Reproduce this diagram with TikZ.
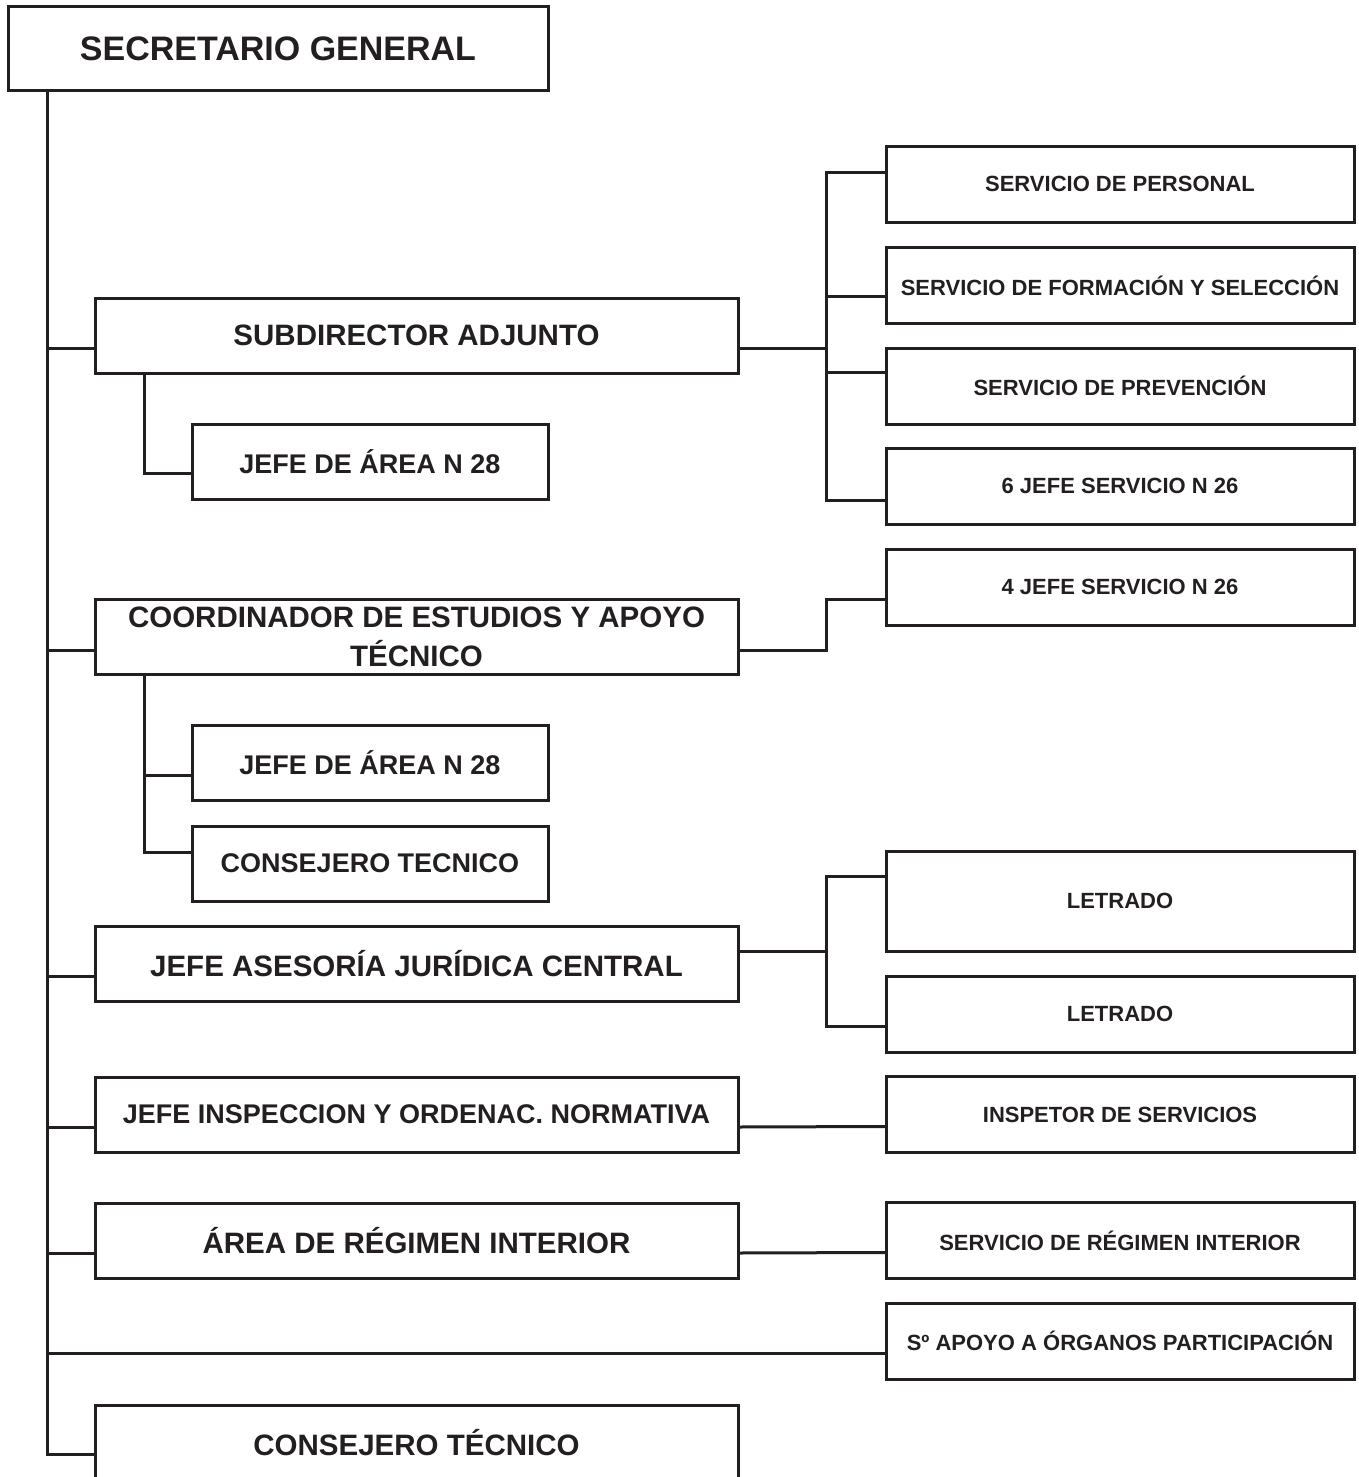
\documentclass[tikz,border=0pt]{standalone}
\usepackage{fontspec}
\setmainfont{Liberation Sans}
\usepackage{tikz}
\usetikzlibrary{calc}
\usetikzlibrary{positioning}
\definecolor{ink}{HTML}{231F20}
\tikzset{>=latex}
\tikzstyle{box} = [draw = ink, text = ink, line width = 3pt, inner sep = 0, outer sep = 0, align = center]
\tikzstyle{topbox} = [box, minimum width = 540pt, minimum height = 84pt, font = \bfseries\fontsize{34}{40}\selectfont]
\tikzstyle{mainbox} = [box, minimum width = 643pt, minimum height = 75pt, font = \bfseries\fontsize{29.5}{39}\selectfont]
\tikzstyle{subbox} = [box, minimum width = 356pt, minimum height = 75pt, font = \bfseries\fontsize{27}{32}\selectfont]
\tikzstyle{servbox} = [box, minimum width = 468pt, minimum height = 76pt, font = \bfseries\fontsize{22}{26}\selectfont]
\tikzstyle{link} = [-, draw = ink, line width = 3pt]

\begin{document}
\begin{tikzpicture}[x = 1pt, y = -1pt]
\useasboundingbox (0, 0) rectangle (1358, 1477);
\clip (0, 0) rectangle (1358, 1477);

\node [topbox]  (sg) at (278, 49) {SECRETARIO GENERAL};

\node [mainbox] (subd) at (416.5, 335.5) {SUBDIRECTOR ADJUNTO};
\node [subbox]  (ja1) at (370, 461.5) {JEFE DE ÁREA N 28};
\node [mainbox] (coord) at (416.5, 637) {COORDINADOR DE ESTUDIOS Y APOYO\\TÉCNICO};
\node [subbox]  (ja2) at (370, 762.5) {JEFE DE ÁREA N 28};
\node [subbox]  (ct1) at (370, 863.5) {CONSEJERO TECNICO};
\node [mainbox] (jaj) at (416.5, 964) {JEFE ASESORÍA JURÍDICA CENTRAL};
\node [mainbox, font = \bfseries\fontsize{27}{32}\selectfont] (jin) at (416.5, 1114.5) {JEFE INSPECCION Y ORDENAC. NORMATIVA};
\node [mainbox] (ari) at (416.5, 1240.5) {ÁREA DE RÉGIMEN INTERIOR};
\node [mainbox] (ct2) at (416.5, 1442.5) {CONSEJERO TÉCNICO};

\node [servbox] (sp1) at (1120, 184) {SERVICIO DE PERSONAL};
\node [servbox] (sp2) at (1120, 285.5) {SERVICIO DE FORMACIÓN Y SELECCIÓN};
\node [servbox] (sp3) at (1120, 386) {SERVICIO DE PREVENCIÓN};
\node [servbox] (sp4) at (1120, 486) {6 JEFE SERVICIO N 26};
\node [servbox] (js4) at (1120, 587) {4 JEFE SERVICIO N 26};
\node [servbox, minimum height = 100pt] (let1) at (1120, 901) {LETRADO};
\node [servbox] (let2) at (1120, 1014) {LETRADO};
\node [servbox] (insp) at (1120, 1114.5) {INSPETOR DE SERVICIOS};
\node [servbox] (sri) at (1120, 1240.5) {SERVICIO DE RÉGIMEN INTERIOR};
\node [servbox] (sap) at (1120, 1341) {Sº APOYO A ÓRGANOS PARTICIPACIÓN};

% main trunk
\coordinate (tk) at (47, 1454);
\draw [link] (sg.south -| tk) -- (tk) -- (ct2.west |- tk);
\draw [link] ($(subd.north west)+(0,50)$) -- +(-48,0);
\draw [link] ($(coord.north west)+(0,51)$) -- +(-48,0);
\draw [link] ($(jaj.north west)+(0,50)$) -- +(-48,0);
\draw [link] ($(jin.north west)+(0,50)$) -- +(-48,0);
\draw [link] ($(ari.north west)+(0,50)$) -- +(-48,0);
\coordinate (sapin) at ($(sap.west)+(0,12)$);
\draw [link] (sapin) -- (tk |- sapin);

% sub boxes on the left
\draw [link] ($(subd.south west)+(49,0)$) |- ($(ja1.west)+(0,11.5)$);
\draw [link] ($(coord.south west)+(49,0)$) |- ($(ct1.west)+(0,-11.5)$);
\draw [link] ($(ja2.west)+(0,12.5)$) -- +(-48,0);

% services on the right
\draw [link] ($(subd.north east)+(0,50)$) -- +(88,0);
\draw [link] ($(sp1.north west)+(0,26)$) -- +(-60,0) |- ($(sp4.north west)+(0,52)$);
\draw [link] ($(sp2.north west)+(0,49)$) -- +(-60,0);
\draw [link] ($(sp3.north west)+(0,24)$) -- +(-60,0);
\draw [link] ($(coord.north east)+(0,51)$) -| ($(js4.north west)+(-60,50)$) -- ($(js4.north west)+(0,50)$);
\draw [link] ($(jaj.north east)+(0,25)$) -- +(88,0);
\draw [link] ($(let1.north west)+(0,25)$) -- +(-60,0) |- ($(let2.north west)+(0,50)$);
\draw [link] ($(jin.north east)+(0,50)$) -- ($(insp.north west)+(0,50)$);
\draw [link] ($(ari.north east)+(0,50)$) -- ($(sri.north west)+(0,50)$);
\end{tikzpicture}
\end{document}
